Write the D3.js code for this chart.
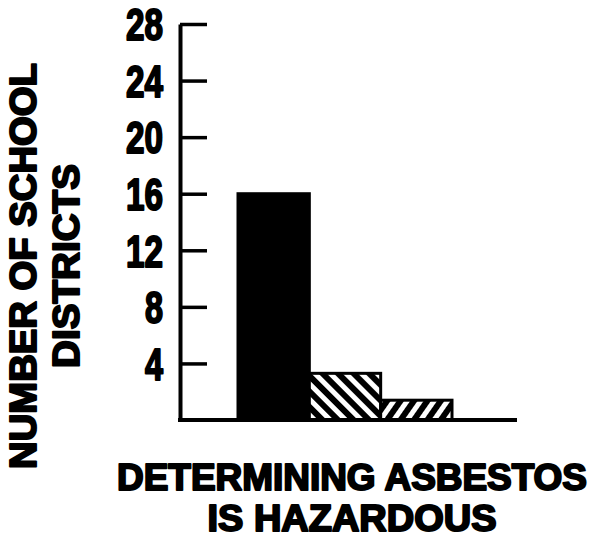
<!DOCTYPE html>
<html>
<head>
<meta charset="utf-8">
<script src="https://cdn.jsdelivr.net/npm/d3@7"></script>
<style>
  body { margin: 0; background: #fff; }
  text { font-family: "Liberation Sans", Arial, sans-serif; font-weight: bold; fill: #000; }
</style>
</head>
<body>
<script>
// Bar chart: school districts determining asbestos is hazardous

const categories = ["Group 1", "Group 2", "Group 3"];
const values = [16, 3.3, 1.4];
const fills = ["url(#solid)", "url(#hatchBack)", "url(#hatchFwd)"];
const yTicks = [4, 8, 12, 16, 20, 24, 28];
const yTitle = ["NUMBER OF SCHOOL", "DISTRICTS"];
const xTitle = ["DETERMINING ASBESTOS", "IS HAZARDOUS"];

const width = 591, height = 540;
const axisX = 180, baseY = 420, topY = 24, baseEnd = 517;

const svg = d3.select("body")
  .append("svg")
  .attr("width", width)
  .attr("height", height);

// fill patterns
const defs = svg.append("defs");
defs.append("pattern")
  .attr("id", "solid")
  .attr("patternUnits", "userSpaceOnUse")
  .attr("width", 10).attr("height", 10)
  .append("rect").attr("width", 10).attr("height", 10).attr("fill", "#000");

function hatch(id, angle) {
  const p = defs.append("pattern")
    .attr("id", id)
    .attr("patternUnits", "userSpaceOnUse")
    .attr("width", 11).attr("height", 11)
    .attr("patternTransform", `rotate(${angle})`);
  p.append("rect").attr("width", 11).attr("height", 11).attr("fill", "#000");
  p.append("rect").attr("x", 0).attr("width", 5).attr("height", 11).attr("fill", "#fff");
}
hatch("hatchBack", -45);
hatch("hatchFwd", 35);

const y = d3.scaleLinear()
  .domain([0, 28])
  .range([baseY, topY]);

const x = d3.scaleBand()
  .domain(categories)
  .range([238, 452])
  .paddingInner(0);

// bars
svg.selectAll("rect.bar")
  .data(values)
  .enter()
  .append("rect")
  .attr("class", "bar")
  .attr("x", (d, i) => x(categories[i]))
  .attr("y", d => y(d))
  .attr("width", x.bandwidth())
  .attr("height", d => baseY - y(d))
  .attr("fill", (d, i) => fills[i])
  .attr("stroke", "#000")
  .attr("stroke-width", 3);

// y axis with inside ticks
const yAxis = d3.axisLeft(y)
  .tickValues(yTicks)
  .tickSizeInner(-27)
  .tickSizeOuter(0)
  .tickPadding(17);

const g = svg.append("g")
  .attr("transform", `translate(${axisX},0)`)
  .call(yAxis);

g.select(".domain").attr("stroke", "#000").attr("stroke-width", 4);
g.selectAll(".tick line").attr("stroke", "#000").attr("stroke-width", 3.5);
g.selectAll(".tick text")
  .attr("font-size", 44)
  .attr("stroke", "#000")
  .attr("stroke-width", 2)
  .attr("stroke-linejoin", "round")
  .attr("dy", "0.36em")
  .attr("textLength", d => String(d).length > 1 ? 37 : 18)
  .attr("lengthAdjust", "spacingAndGlyphs");

// baseline
svg.append("line")
  .attr("x1", axisX - 2).attr("x2", baseEnd)
  .attr("y1", y(0)).attr("y2", y(0))
  .attr("stroke", "#000")
  .attr("stroke-width", 4);

// y title (two rotated lines)
const yTitlePos = [{ x: 36, len: 406 }, { x: 79, len: 204 }];
svg.selectAll("text.ytitle")
  .data(yTitle)
  .enter()
  .append("text")
  .attr("class", "ytitle")
  .attr("transform", (d, i) => `translate(${yTitlePos[i].x},266) rotate(-90)`)
  .attr("text-anchor", "middle")
  .attr("font-size", 36)
  .attr("stroke", "#000")
  .attr("stroke-width", 2)
  .attr("stroke-linejoin", "round")
  .attr("textLength", (d, i) => yTitlePos[i].len)
  .attr("lengthAdjust", "spacingAndGlyphs")
  .text(d => d);

// x title
const xTitlePos = [{ y: 490, len: 470 }, { y: 531, len: 289 }];
svg.selectAll("text.xtitle")
  .data(xTitle)
  .enter()
  .append("text")
  .attr("class", "xtitle")
  .attr("x", 352)
  .attr("y", (d, i) => xTitlePos[i].y)
  .attr("text-anchor", "middle")
  .attr("font-size", 36)
  .attr("stroke", "#000")
  .attr("stroke-width", 2)
  .attr("stroke-linejoin", "round")
  .attr("textLength", (d, i) => xTitlePos[i].len)
  .attr("lengthAdjust", "spacingAndGlyphs")
  .text(d => d);
</script>
</body>
</html>
